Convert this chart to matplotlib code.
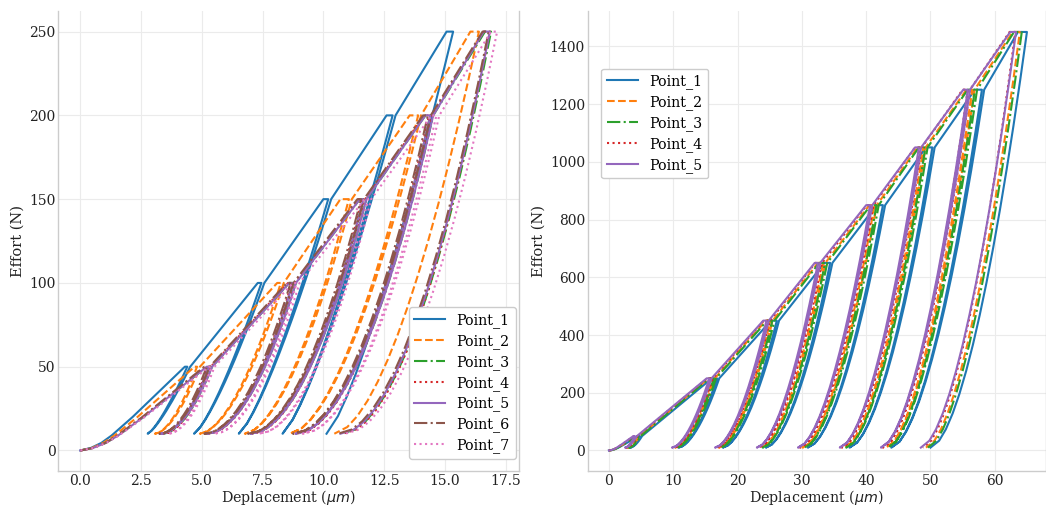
import numpy as np
import matplotlib
matplotlib.use("Agg")
import matplotlib.pyplot as plt

# ---------------- data ----------------
# Left chart: peak loads (N) of each cycle, minimum load during unloading
left_loads = [50, 100, 150, 200, 250]
left_pmin = 10
left_names = ["Point_1", "Point_2", "Point_3", "Point_4", "Point_5", "Point_6", "Point_7"]
# depth at start of hold (um)
left_h_peak = {
    "Point_1": [4.30, 7.30, 10.00, 12.60, 15.07],
    "Point_2": [4.70, 8.10, 10.70, 13.55, 16.05],
    "Point_3": [5.20, 8.60, 11.50, 14.20, 16.65],
    "Point_4": [5.15, 8.55, 11.45, 14.15, 16.60],
    "Point_5": [5.20, 8.60, 11.50, 14.20, 16.60],
    "Point_6": [5.10, 8.50, 11.40, 14.10, 16.55],
    "Point_7": [5.30, 8.75, 11.70, 14.45, 16.90],
}
# depth at end of hold (um)
left_h_end = {
    "Point_1": [4.40, 7.45, 10.20, 12.85, 15.34],
    "Point_2": [4.80, 8.25, 11.05, 13.90, 16.40],
    "Point_3": [5.30, 8.75, 11.65, 14.40, 16.90],
    "Point_4": [5.25, 8.70, 11.60, 14.35, 16.85],
    "Point_5": [5.30, 8.75, 11.65, 14.40, 16.85],
    "Point_6": [5.20, 8.65, 11.55, 14.30, 16.80],
    "Point_7": [5.40, 8.90, 11.85, 14.65, 17.15],
}
# residual depth at minimum load (um)
left_h_res = {
    "Point_1": [2.77, 4.68, 6.52, 8.32, 10.13],
    "Point_2": [3.07, 4.92, 6.77, 8.62, 10.45],
    "Point_3": [3.35, 5.20, 7.00, 8.85, 10.75],
    "Point_4": [3.40, 5.25, 7.05, 8.90, 10.80],
    "Point_5": [3.30, 5.20, 7.00, 8.85, 10.70],
    "Point_6": [3.25, 5.10, 6.90, 8.75, 10.60],
    "Point_7": [3.60, 5.50, 7.35, 9.15, 10.90],
}
left_unload_exp = {"Point_1": 1.3, "Point_2": 1.7, "Point_3": 1.9, "Point_4": 1.9,
                   "Point_5": 1.9, "Point_6": 1.9, "Point_7": 1.9}

# Right chart
right_loads = [50, 250, 450, 650, 850, 1050, 1250, 1450]
right_pmin = 10
right_names = ["Point_1", "Point_2", "Point_3", "Point_4", "Point_5"]
right_h_peak = {
    "Point_1": [4.6, 16.0, 25.2, 33.5, 41.6, 49.3, 56.9, 63.6],
    "Point_2": [4.2, 15.5, 24.4, 32.5, 40.5, 48.0, 55.6, 62.8],
    "Point_3": [4.4, 15.6, 24.6, 32.7, 40.7, 48.2, 55.8, 63.0],
    "Point_4": [3.9, 15.3, 24.1, 32.1, 40.1, 47.6, 55.0, 62.3],
    "Point_5": [3.8, 15.2, 24.0, 32.0, 40.0, 47.6, 55.1, 62.4],
}
right_h_end = {
    "Point_1": [4.8, 16.8, 26.1, 34.4, 42.6, 50.3, 58.0, 65.0],
    "Point_2": [4.4, 16.1, 25.1, 33.3, 41.3, 48.9, 56.5, 63.9],
    "Point_3": [4.6, 16.3, 25.4, 33.6, 41.6, 49.2, 56.9, 64.2],
    "Point_4": [4.1, 15.8, 24.7, 32.8, 40.8, 48.3, 55.8, 63.2],
    "Point_5": [4.0, 15.6, 24.5, 32.5, 40.6, 48.2, 55.8, 63.3],
}
right_h_res = {
    "Point_1": [3.3, 10.8, 17.7, 24.4, 30.9, 37.4, 43.9, 50.0],
    "Point_2": [2.9, 10.3, 17.1, 23.7, 30.1, 36.6, 43.1, 49.3],
    "Point_3": [3.1, 10.5, 17.3, 23.9, 30.4, 36.9, 43.4, 49.6],
    "Point_4": [2.7, 10.1, 16.8, 23.3, 29.7, 36.2, 42.6, 48.8],
    "Point_5": [2.5, 9.8, 16.5, 23.0, 29.4, 35.9, 42.3, 48.5],
}
right_unload_exp = {n: 1.7 for n in right_names}

# normalised shape of the first loading branch (depth fraction -> load fraction)
first_load_h = [0.0, 0.1, 0.2, 0.3, 0.4, 0.5, 0.6, 0.7, 0.8, 0.9, 1.0]
first_load_p = [0.0, 0.03, 0.09, 0.18, 0.29, 0.40, 0.52, 0.64, 0.76, 0.88, 1.0]
# depth fractions sampled along an unloading branch (1 = end of hold, 0 = residual)
unload_d = [1.0, 0.93, 0.86, 0.79, 0.72, 0.65, 0.58, 0.51, 0.44, 0.37, 0.30, 0.23, 0.16, 0.09, 0.0]

colors = {"Point_1": "#1f77b4", "Point_2": "#ff7f0e", "Point_3": "#2ca02c", "Point_4": "#d62728",
          "Point_5": "#9467bd", "Point_6": "#8c564b", "Point_7": "#e377c2"}
styles = {"Point_1": "-", "Point_2": "--", "Point_3": "-.", "Point_4": ":",
          "Point_5": "-", "Point_6": "-.", "Point_7": ":"}


def build(loads, pmin, hp, he, hr, m, shift):
    d = np.array(unload_d)
    xs = list(np.array(first_load_h) * hp[0])
    ys = list(np.array(first_load_p) * loads[0])
    for i, P in enumerate(loads):
        if i > 0:
            # reloading branch from previous residual up to previous peak load
            Pp = loads[i - 1]
            span = he[i - 1] + shift - hr[i - 1]
            dd = d[::-1]
            xs += list(hr[i - 1] + dd * span)
            ys += list(pmin + (Pp - pmin) * dd ** m)
            xs.append(hp[i]); ys.append(P)
        xs.append(he[i]); ys.append(P)
        span = he[i] - hr[i]
        xs += list(hr[i] + d * span)
        ys += list(pmin + (P - pmin) * d ** m)
    return np.array(xs), np.array(ys)


plt.rcParams['font.family'] = ['DejaVu Serif']
plt.rcParams['mathtext.fontset'] = 'dejavusans'

fig = plt.figure(figsize=(10.46, 5.08), dpi=100)
ax1 = fig.add_axes([0.0557, 0.072, 0.4407, 0.907])
ax2 = fig.add_axes([0.5619, 0.072, 0.4377, 0.9063])

for name in left_names:
    x, y = build(left_loads, left_pmin, left_h_peak[name], left_h_end[name], left_h_res[name],
                 left_unload_exp[name], 0.12)
    ax1.plot(x, y, color=colors[name], ls=styles[name], lw=1.5, label=name)

for name in right_names:
    x, y = build(right_loads, right_pmin, right_h_peak[name], right_h_end[name], right_h_res[name],
                 right_unload_exp[name], 0.35)
    ax2.plot(x, y, color=colors[name], ls=styles[name], lw=1.5, label=name)

ax1.set_xlim(-0.91, 18.06)
ax1.set_ylim(-12.5, 262.5)
ax1.set_xticks([0, 2.5, 5, 7.5, 10, 12.5, 15, 17.5])
ax1.set_xticklabels(["0.0", "2.5", "5.0", "7.5", "10.0", "12.5", "15.0", "17.5"])
ax1.set_yticks([0, 50, 100, 150, 200, 250])

ax2.set_xlim(-3.3, 67.9)
ax2.set_ylim(-72.5, 1522.5)
ax2.set_xticks([0, 10, 20, 30, 40, 50, 60])
ax2.set_yticks([0, 200, 400, 600, 800, 1000, 1200, 1400])

for ax in (ax1, ax2):
    ax.grid(True, color="#ebebeb", lw=0.8)
    ax.set_axisbelow(True)
    ax.tick_params(length=0, labelsize=10, colors="#222222")
    ax.tick_params(axis="x", pad=1.5)
    ax.tick_params(axis="y", pad=2)
    for s in ("left", "bottom", "right"):
        ax.spines[s].set_color("#cccccc")
        ax.spines[s].set_linewidth(1.0)
    ax.spines["top"].set_visible(False)
    ax.set_xlabel(r"Deplacement ($\mu m$)", fontsize=10.3, labelpad=0, color="#222222")
    ax.set_ylabel("Effort (N)", fontsize=10.5, labelpad=3, color="#222222")

leg_kw = dict(borderaxespad=0, fontsize=10.3, labelspacing=0.42, handlelength=2.15,
              framealpha=1, edgecolor="#cccccc")
ax1.legend(loc="lower right", bbox_to_anchor=(0.992, 0.027), **leg_kw)
ax2.legend(loc="upper left", bbox_to_anchor=(0.03, 0.875), **leg_kw)

fig.savefig("out.png", dpi=100)
